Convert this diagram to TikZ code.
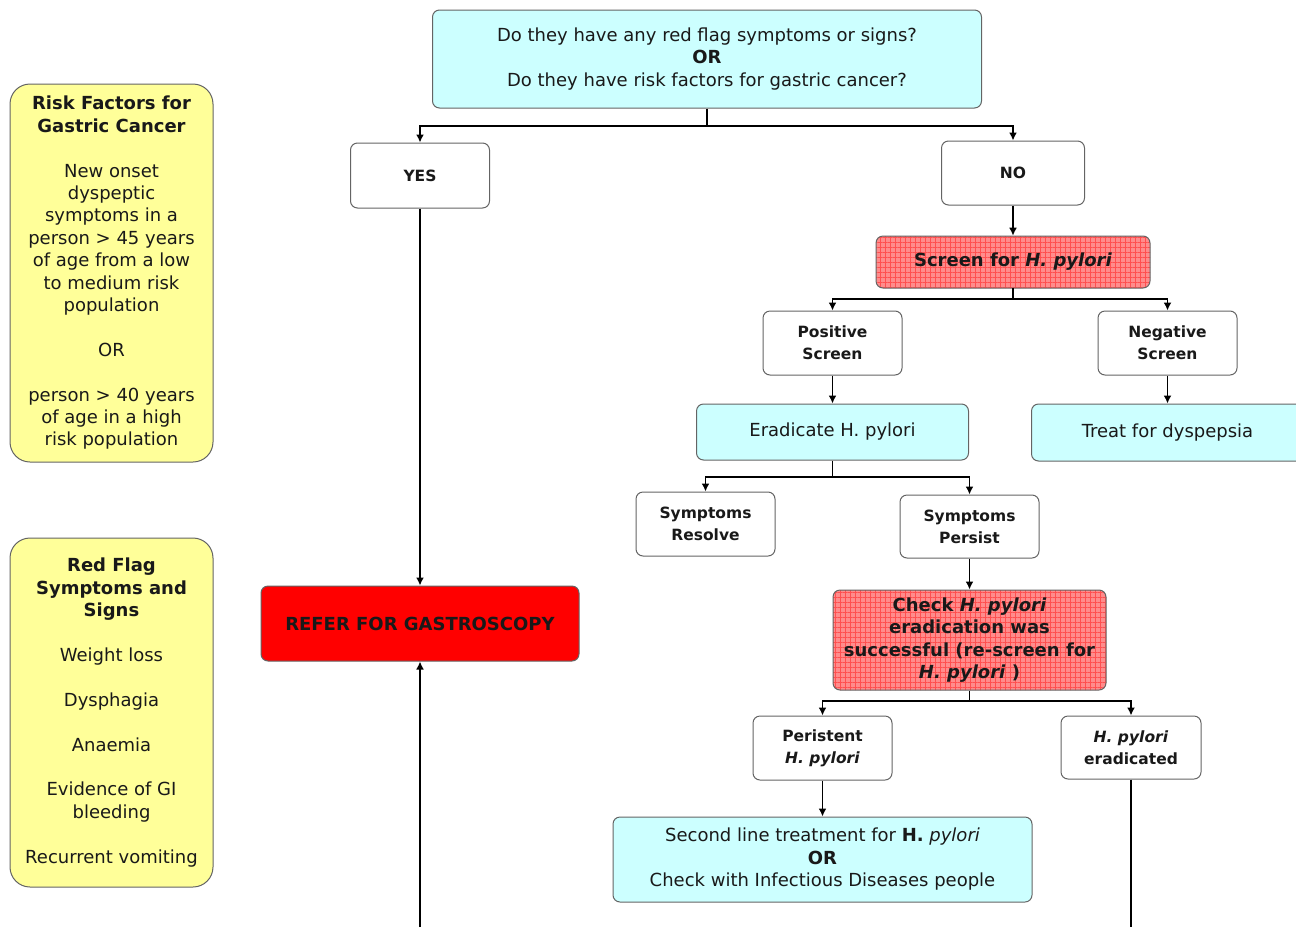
\documentclass[tikz,border=0pt]{standalone}
\usepackage{fontspec}
\setmainfont{DejaVu Sans}
\usetikzlibrary{arrows.meta,patterns.meta}

\definecolor{boxcyan}{RGB}{204,255,255}
\definecolor{boxyellow}{RGB}{255,255,153}
\definecolor{boxpink}{RGB}{255,140,140}
\definecolor{gridred}{RGB}{255,80,80}
\definecolor{boxline}{RGB}{100,100,100}

\begin{document}
\begin{tikzpicture}[x=1pt, y=-1pt,
      base/.style ={draw=boxline, line width=1pt, rounded corners=7pt, inner sep=0pt, align=center, text=black!90},
      question/.style ={base, fill=boxcyan, font=\fontsize{18}{22.5}\selectfont},
      answer/.style ={base, fill=white, font=\bfseries\fontsize{15.5}{22}\selectfont},
      alert/.style ={base, preaction={fill=boxpink}, pattern={Hatch[angle=0,distance=5pt,line width=0.6pt]}, pattern color=gridred, font=\bfseries\fontsize{18}{22.3}\selectfont},
      refer/.style ={base, fill=red, font=\bfseries\fontsize{18}{22}\selectfont},
      sidenote/.style ={base, rounded corners=20pt, fill=boxyellow, font=\fontsize{18}{22.4}\selectfont},
      link/.style ={line width=1.6pt},
      flow/.style ={link, -{Latex[length=8pt,width=8pt]}}]
   \useasboundingbox (0,0) rectangle (1296,927);

   \node[question, minimum width=549pt, minimum height=98pt] (Q) at (707,59) {Do they have any red flag symptoms or signs?\\\textbf{OR}\\Do they have risk factors for gastric cancer?};

   \node[answer, minimum width=139pt, minimum height=65pt] (yes) at (420,175.5) {YES};
   \node[answer, minimum width=143pt, minimum height=64pt] (no) at (1013,173) {NO};
   \node[refer, minimum width=318pt, minimum height=75pt] (gastro) at (420,623.5) {REFER FOR GASTROSCOPY};

   \node[alert, minimum width=274pt, minimum height=52pt] (screen) at (1013,262) {Screen for \textit{H. pylori}};
   \node[answer, minimum width=139pt, minimum height=64pt] (pos) at (832.5,343) {Positive\\Screen};
   \node[answer, minimum width=139pt, minimum height=64pt] (neg) at (1167.5,343) {Negative\\Screen};
   \node[question, minimum width=272pt, minimum height=56pt] (eradicate) at (832.5,432) {Eradicate H. pylori};
   \node[question, minimum width=272pt, minimum height=57pt] (dyspepsia) at (1167.5,432.5) {Treat for dyspepsia};

   \node[answer, minimum width=139pt, minimum height=64pt] (resolve) at (705.5,524) {Symptoms\\Resolve};
   \node[answer, minimum width=139pt, minimum height=63pt] (persist) at (969.5,526.5) {Symptoms\\Persist};
   \node[alert, minimum width=273pt, minimum height=100pt] (recheck) at (969.5,640) {Check \textit{H. pylori}\\eradication was\\successful (re-screen for\\\textit{H. pylori} )};
   \node[answer, minimum width=139pt, minimum height=64pt] (persistent) at (822.5,748) {Peristent\\\textit{H. pylori}};
   \node[answer, minimum width=140pt, minimum height=63pt] (cleared) at (1131,747.5) {\textit{H. pylori}\\eradicated};
   \node[question, minimum width=419pt, minimum height=85pt] (second) at (822.5,859.5) {Second line treatment for \textbf{H.} \textit{pylori}\\\textbf{OR}\\Check with Infectious Diseases people};

   \node[sidenote, minimum width=203pt, minimum height=378pt] (risk) at (111.5,273) {\textbf{Risk Factors for}\\\textbf{Gastric Cancer}\\[22.4pt]New onset\\dyspeptic\\symptoms in a\\person > 45 years\\of age from a low\\to medium risk\\population\\[22.4pt]OR\\[22.4pt]person > 40 years\\of age in a high\\risk population};
   \node[sidenote, minimum width=203pt, minimum height=349pt] (redflag) at (111.5,712.5) {\textbf{Red Flag}\\\textbf{Symptoms and}\\\textbf{Signs}\\[22.4pt]Weight loss\\[22.4pt]Dysphagia\\[22.4pt]Anaemia\\[22.4pt]Evidence of GI\\bleeding\\[22.4pt]Recurrent vomiting};

   \coordinate (qsplit) at (707,126);
   \coordinate (ssplit) at (1013,299);
   \coordinate (esplit) at (832.5,477);
   \coordinate (csplit) at (969.5,701);
   \coordinate (referstart) at (420,927);
   \coordinate (clearedend) at (1131,927);

   \draw[link] (Q.south) to (qsplit);
   \draw[flow] (qsplit) -| (yes.north);
   \draw[flow] (qsplit) -| (no.north);
   \draw[flow] (yes.south) to (gastro.north);
   \draw[flow] (referstart) to (gastro.south);

   \draw[flow] (no.south) to (screen.north);
   \draw[link] (screen.south) to (ssplit);
   \draw[flow] (ssplit) -| (pos.north);
   \draw[flow] (ssplit) -| (neg.north);
   \draw[flow] (pos.south) to (eradicate.north);
   \draw[flow] (neg.south) to (dyspepsia.north);

   \draw[link] (eradicate.south) to (esplit);
   \draw[flow] (esplit) -| (resolve.north);
   \draw[flow] (esplit) -| (persist.north);
   \draw[flow] (persist.south) to (recheck.north);

   \draw[link] (recheck.south) to (csplit);
   \draw[flow] (csplit) -| (persistent.north);
   \draw[flow] (csplit) -| (cleared.north);
   \draw[flow] (persistent.south) to (second.north);
   \draw[link] (cleared.south) to (clearedend);
\end{tikzpicture}
\end{document}
